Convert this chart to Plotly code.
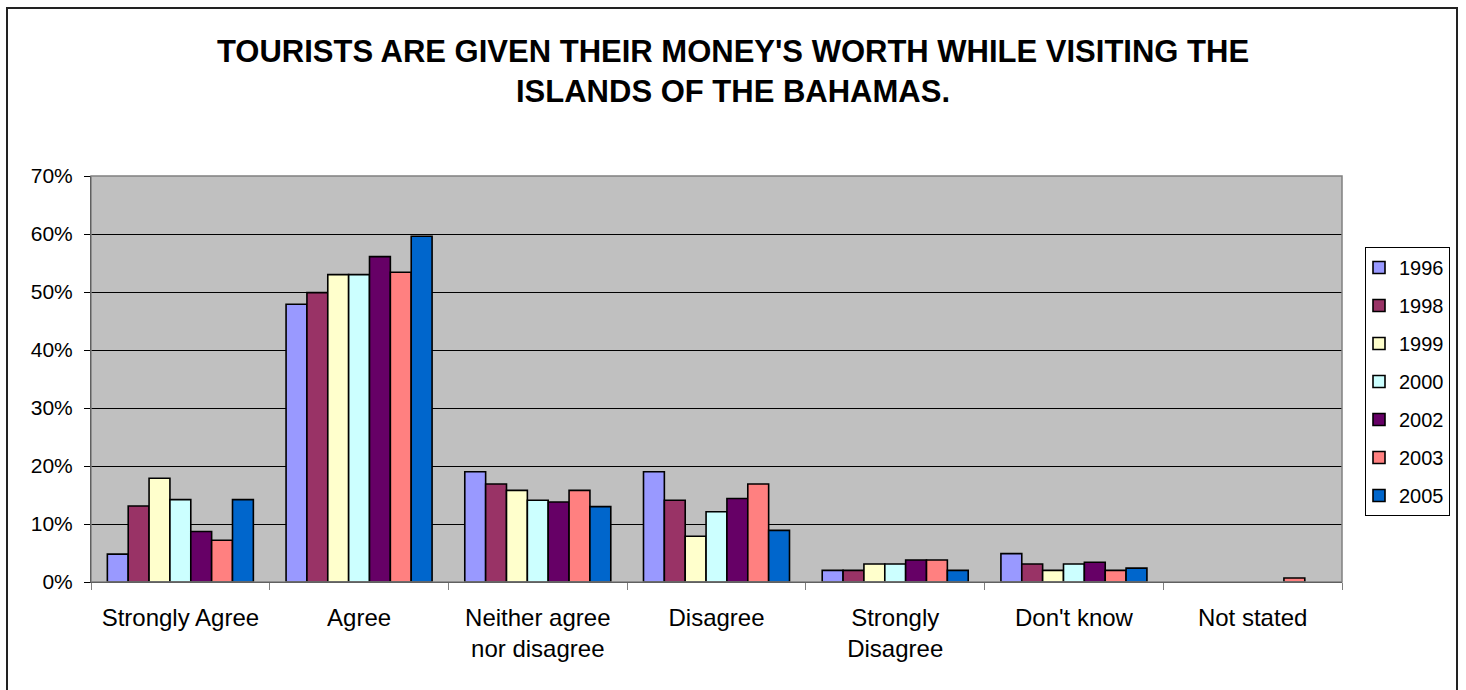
import plotly.graph_objects as go

# Survey responses by year (percent of tourists)
categories = ["Strongly Agree", "Agree", "Neither agree<br>nor disagree", "Disagree",
              "Strongly<br>Disagree", "Don't know", "Not stated"]
years = ["1996", "1998", "1999", "2000", "2002", "2003", "2005"]

v1996 = [4.8, 47.9, 19.0, 19.0, 2.0, 4.9, None]
v1998 = [13.1, 49.9, 16.9, 14.1, 2.0, 3.1, None]
v1999 = [17.9, 53.0, 15.8, 7.9, 3.1, 2.0, None]
v2000 = [14.2, 53.0, 14.1, 12.1, 3.1, 3.1, None]
v2002 = [8.7, 56.1, 13.8, 14.4, 3.8, 3.4, None]
v2003 = [7.2, 53.4, 15.8, 16.9, 3.8, 2.0, 0.7]
v2005 = [14.2, 59.6, 13.0, 8.9, 2.0, 2.4, None]

series = [v1996, v1998, v1999, v2000, v2002, v2003, v2005]
colors = ["#9999FF", "#993366", "#FFFFCC", "#CCFFFF", "#660066", "#FF8080", "#0066CC"]

FONT = "Liberation Sans, Arial, sans-serif"

fig = go.Figure()
for name, vals, col in zip(years, series, colors):
    fig.add_trace(go.Bar(
        x=categories, y=vals, name=name, legendgroup=name,
        marker=dict(color=col, line=dict(color="black", width=1.6)),
    ))

W, H = 1466, 690
L, R, T, B = 91, 1342, 176, 582

fig.update_layout(
    width=W, height=H,
    margin=dict(l=L, r=W - R, t=T, b=H - B, autoexpand=False),
    paper_bgcolor="white",
    plot_bgcolor="#C0C0C0",
    barmode="group",
    bargap=0.183,
    bargroupgap=0,
    font=dict(family=FONT, color="black"),
    title=dict(
        text="TOURISTS ARE GIVEN THEIR MONEY'S WORTH WHILE VISITING THE<br>ISLANDS OF THE BAHAMAS.",
        font=dict(family=FONT, size=31, color="black", weight="bold"),
        x=0.5, xref="container", xanchor="center",
        y=1 - 62 / H, yref="container", yanchor="middle",
    ),
    legend=dict(
        x=(1365 - L) / (R - L), xanchor="left",
        y=(B - 247) / (B - T), yanchor="top",
        bgcolor="white", bordercolor="black", borderwidth=1,
        font=dict(family=FONT, size=20, color="black"),
        traceorder="grouped", tracegroupgap=9,
        indentation=-7,
    ),
    xaxis=dict(
        type="category",
        showline=True, linecolor="black", linewidth=1,
        ticks="outside", tickson="boundaries", ticklen=7, tickcolor="#808080",
        tickfont=dict(family=FONT, size=24, color="black"),
        ticklabelstandoff=14,
        showgrid=False,
    ),
    yaxis=dict(
        range=[0, 70], dtick=10, ticksuffix="%",
        showline=True, linecolor="black", linewidth=1,
        ticks="outside", ticklen=6, tickcolor="black",
        tickfont=dict(family=FONT, size=21, color="black"),
        ticklabelstandoff=7,
        showgrid=True, gridcolor="black", gridwidth=1,
        zeroline=False,
    ),
    shapes=[
        # outer chart frame
        dict(type="rect", xref="paper", yref="paper",
             x0=(7 - L) / (R - L), x1=(1457 - L) / (R - L),
             y0=(B - 720) / (B - T), y1=(B - 8) / (B - T),
             line=dict(color="#222222", width=2), fillcolor="rgba(0,0,0,0)", layer="below"),
        # plot area border (top and right edges)
        dict(type="rect", xref="paper", yref="paper", x0=0, x1=1, y0=0, y1=1,
             line=dict(color="#808080", width=1.5), fillcolor="rgba(0,0,0,0)", layer="above"),
    ],
)

fig.write_html("out.html")
